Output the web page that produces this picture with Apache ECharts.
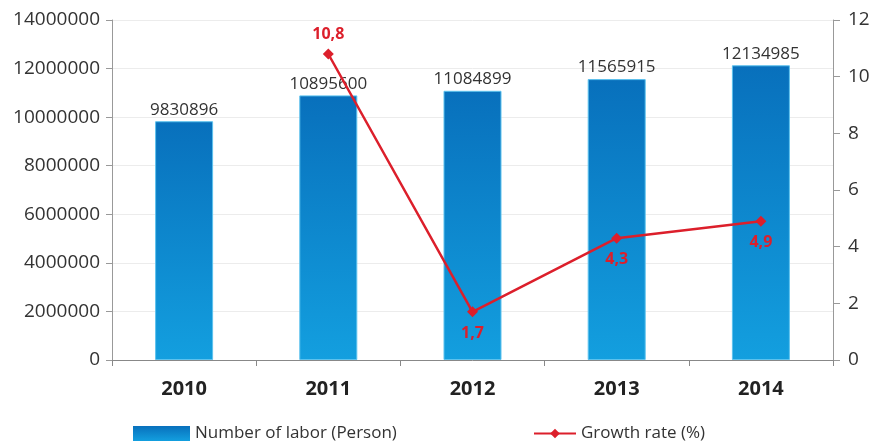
<!DOCTYPE html>
<html>
<head>
<meta charset="utf-8">
<script src="https://cdn.jsdelivr.net/npm/echarts@6/dist/echarts.min.js"></script>
<style>
    html, body { margin: 0; padding: 0; background: #fff; }
    #chart { width: 875px; height: 445px; }
</style>
</head>
<body>
<div id="chart"></div>
<script>
let years = ['2010', '2011', '2012', '2013', '2014']
let labor = [9830896, 10895600, 11084899, 11565915, 12134985]
let growth = [null, 10.8, 1.7, 4.3, 4.9]
let leftTicks = [0, 14000000, 2000000]
let rightTicks = [0, 12, 2]

let font = '"Open Sans", "Noto Sans", sans-serif'
let red = '#dc1f2b'

// 10,8 sits above its point, the others below
let growthData = growth.map((v, i) => {
    if (i === 1) return { value: v, label: { position: 'top', distance: 6 } }
    return v
})

let option = {
    backgroundColor: '#fff',
    textStyle: { fontFamily: font },
    grid: {
        left: 112,
        right: 42,
        top: 20,
        bottom: 85
    },
    legend: [{
        left: 128,
        top: 420,
        itemWidth: 57,
        itemHeight: 15,
        itemGap: 8,
        itemStyle: { borderWidth: 0 },
        data: [{ name: 'Number of labor (Person)', icon: 'rect' }],
        textStyle: { color: '#333', fontSize: 17, fontFamily: font }
    }, {
        left: 528,
        top: 420,
        itemWidth: 42,
        itemHeight: 12,
        data: ['Growth rate (%)'],
        textStyle: { color: '#333', fontSize: 17, fontFamily: font }
    }],
    xAxis: {
        type: 'category',
        data: years,
        axisLine: { lineStyle: { color: '#888' } },
        axisTick: { show: true, length: 6, lineStyle: { color: '#888' } },
        axisLabel: {
            color: '#222',
            fontSize: 20,
            fontWeight: 'bold',
            margin: 19,
            fontFamily: font
        }
    },
    yAxis: [{
        type: 'value',
        min: leftTicks[0],
        max: leftTicks[1],
        interval: leftTicks[2],
        axisLine: { show: true, lineStyle: { color: '#999' } },
        axisTick: { show: true, length: 6, lineStyle: { color: '#999' } },
        splitLine: { lineStyle: { color: '#ececec' } },
        axisLabel: {
            color: '#333',
            fontSize: 19,
            margin: 12,
            fontFamily: font,
            formatter: v => String(v)
        }
    }, {
        type: 'value',
        min: rightTicks[0],
        max: rightTicks[1],
        interval: rightTicks[2],
        position: 'right',
        axisLine: { show: true, lineStyle: { color: '#999' } },
        axisTick: { show: true, length: 7, lineStyle: { color: '#999' } },
        splitLine: { show: false },
        axisLabel: { color: '#333', fontSize: 19, margin: 15, fontFamily: font }
    }],
    series: [{
        name: 'Number of labor (Person)',
        type: 'bar',
        data: labor,
        barWidth: 58,
        itemStyle: {
            color: new echarts.graphic.LinearGradient(0, 0, 0, 1, [
                { offset: 0, color: '#0870bc' },
                { offset: 1, color: '#139fdf' }
            ]),
            borderColor: '#5cc2ee',
            borderWidth: 1
        },
        label: {
            show: true,
            position: 'top',
            distance: 3,
            color: '#333',
            fontSize: 17,
            fontFamily: font
        }
    }, {
        name: 'Growth rate (%)',
        type: 'line',
        yAxisIndex: 1,
        data: growthData,
        color: red,
        symbol: 'diamond',
        symbolSize: 11,
        lineStyle: { color: red, width: 2.5 },
        itemStyle: { color: red },
        label: {
            show: true,
            position: 'bottom',
            distance: 8,
            color: red,
            fontSize: 16,
            fontWeight: 'bold',
            fontFamily: font,
            formatter: p => String(p.value).replace('.', ',')
        },
        z: 5
    }]
}

let myChart = echarts.init(document.getElementById('chart'))
myChart.setOption(option)
</script>
</body>
</html>
